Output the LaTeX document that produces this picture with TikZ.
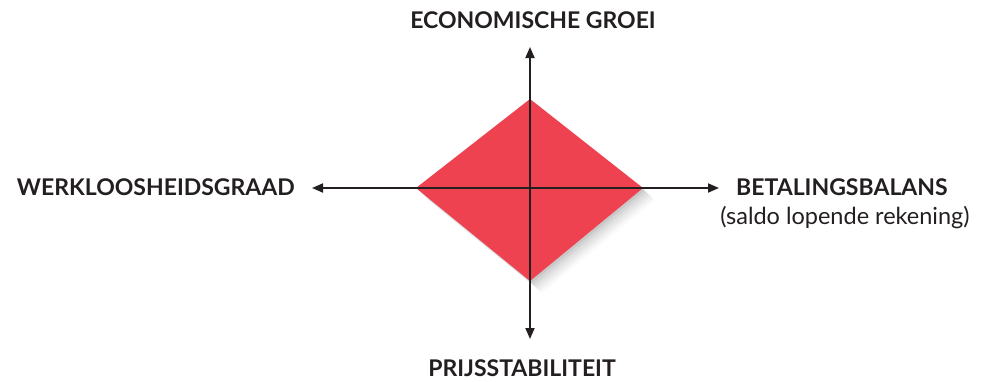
\documentclass[tikz,border=0pt]{standalone}
\usepackage{fontspec}
\setmainfont{Lato}
\usetikzlibrary{arrows.meta}
\definecolor{dred}{HTML}{EF4250}
\definecolor{ink}{HTML}{231F20}
\tikzset{
  axis/.style={draw=ink, line width=1.8pt, {Triangle[length=11pt,width=9pt]}-{Triangle[length=11pt,width=9pt]}},
  lab/.style={font=\fontsize{23}{26}\selectfont\bfseries, text=ink, inner sep=0pt},
  sub/.style={font=\fontsize{23.5}{26}\selectfont, text=ink, inner sep=0pt},
}
\begin{document}
\begin{tikzpicture}[x=1pt,y=-1pt]
\useasboundingbox (0,0) rectangle (985,381);
% shadow
\foreach \o/\a in {12/0.02,10/0.03,8/0.035,6/0.04,4/0.05,2/0.06}{
  \fill[black, opacity=\a] (530+\o,99+\o) -- (643+\o,188+\o) -- (530+\o,281+\o) -- (416+\o,188+\o) -- cycle;
}
\coordinate (T) at (530,99);
\coordinate (R) at (643,188);
\coordinate (B) at (530,281);
\coordinate (L) at (416,188);
\fill[dred] (T) -- (R) -- (B) -- (L) -- cycle;
\coordinate (up) at (530,47);
\coordinate (down) at (530,339);
\coordinate (left) at (312,188);
\coordinate (right) at (719,188);
\draw[axis] (down) -- (up);
\draw[axis] (left) -- (right);
\node[lab] (eg) at (533,20) {ECONOMISCHE GROEI};
\node[lab, anchor=east] (wg) at (295,187) {WERKLOOSHEIDSGRAAD};
\node[lab, anchor=west] (bb) at (736,187) {BETALINGSBALANS};
\node[sub] (sl) at (845,218) {(saldo lopende rekening)};
\node[lab] (ps) at (522,368) {PRIJSSTABILITEIT};
\end{tikzpicture}
\end{document}
